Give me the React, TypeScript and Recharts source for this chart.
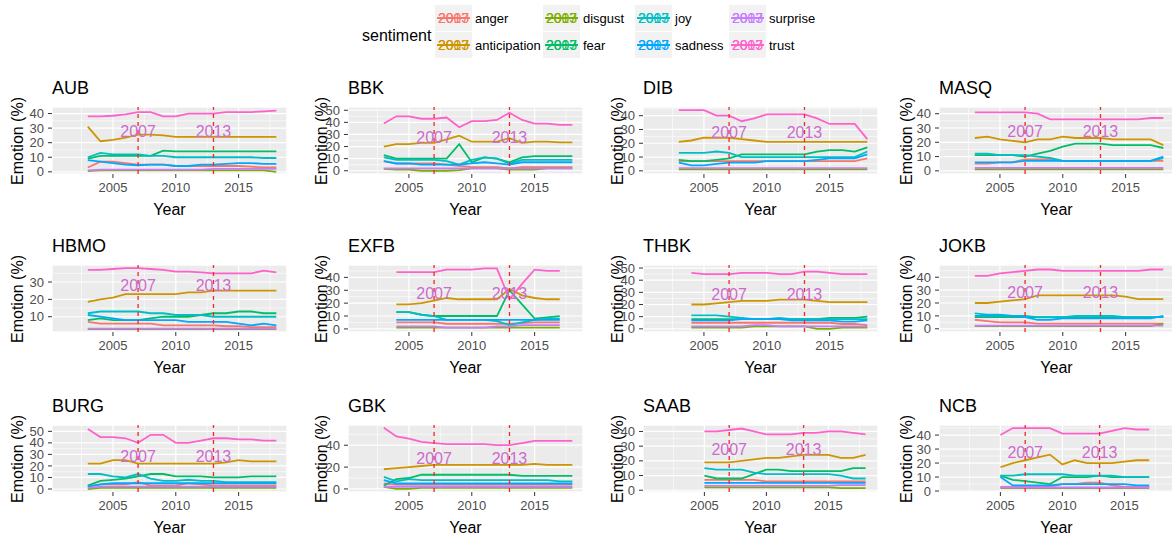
import { LineChart, Line, XAxis, YAxis, CartesianGrid, ReferenceLine, ReferenceDot } from "recharts"

const SENTIMENTS = ["anger", "anticipation", "disgust", "fear", "joy", "sadness", "surprise", "trust"]
const COLORS = ["#F8766D", "#CD9600", "#7CAE00", "#00BE67", "#00BFC4", "#00A9FF", "#C77CFF", "#FF61CC"]
const EVENT_YEARS = [2007, 2013]

const YEARS_03_18 = [2003, 2004, 2005, 2006, 2007, 2008, 2009, 2010, 2011, 2012, 2013, 2014, 2015, 2016, 2017, 2018]
const YEARS_04_17 = [2004, 2005, 2006, 2007, 2008, 2009, 2010, 2011, 2012, 2013, 2014, 2015, 2016, 2017]
const YEARS_04_18 = [2004, 2005, 2006, 2007, 2008, 2009, 2010, 2011, 2012, 2013, 2014, 2015, 2016, 2017, 2018]
const YEARS_05_17 = [2005, 2006, 2007, 2008, 2009, 2010, 2011, 2012, 2013, 2014, 2015, 2016, 2017]
const YEARS_05_18 = [2005, 2006, 2007, 2008, 2009, 2010, 2011, 2012, 2013, 2014, 2015, 2016, 2017, 2018]

const AUB = {
  anger: [3, 7, 7, 6, 5, 5, 5, 4, 4, 4, 4, 4, 4, 3.5, 3, 3],
  anticipation: [31, 21, 22, 23.5, 25.5, 25.5, 25, 24, 24, 24, 24, 24, 24, 24, 24, 24],
  disgust: [0.5, 1, 1, 1, 1, 1, 1, 1, 1, 1, 1, 1, 1, 1, 1, 0],
  fear: [9, 11, 11, 11, 11, 11, 14.5, 14, 14, 14, 14, 14, 14, 14, 14, 14],
  joy: [10, 13, 12, 12, 12, 11, 11, 10, 10, 10, 10, 10, 10, 10, 9.5, 9.5],
  sadness: [8, 7, 6, 5, 4.5, 5, 5, 4, 4, 5, 5, 5.5, 6, 6, 5.5, 5.5],
  surprise: [1, 1.5, 1.5, 1.5, 1.5, 1.5, 1.5, 1.5, 1.5, 1.5, 2, 2, 2, 2, 2, 2],
  trust: [38, 38, 38.5, 39.5, 41, 41, 38, 38, 40, 40, 40, 41, 41, 41, 41.5, 42],
}

const BBK = {
  anger: [8, 6, 6, 6, 6, 5, 4, 3, 3, 3, 2, 3, 3, 3, 3, 3],
  anticipation: [20, 22, 22, 23, 23, 26, 29, 24, 24, 24, 27, 23, 24, 24, 23.5, 23.5],
  disgust: [1.5, 1, 1, 0, 0, 0, 0.5, 2, 2, 2, 1, 1, 1, 2, 2, 2],
  fear: [13, 10, 10, 10, 10, 10, 22, 7, 11, 10, 7, 11, 12, 12, 12, 12],
  joy: [11, 9, 9, 9, 9, 8, 5, 9, 11, 10, 6, 9, 9, 9, 9, 9],
  sadness: [8, 6, 6, 5, 5, 5, 5, 6, 7, 6, 5, 7, 7, 7, 7, 7],
  surprise: [2, 2, 2, 2, 2, 2, 2, 2, 2, 2, 2, 2, 2, 2, 2, 2],
  trust: [39, 45, 45, 43, 43, 44, 36, 41, 41, 42, 48, 42, 39, 39, 38, 38],
}

const DIB = {
  anger: [7, 7, 7, 7, 7, 7, 7, 7, 7, 7, 7, 7, 7, 7, 7, 9],
  anticipation: [21, 22, 24, 24, 24, 23, 22, 21, 21, 21, 21, 21, 21, 21, 21, 21],
  disgust: [1, 1, 1, 1, 1, 1, 1, 1, 1, 1, 1, 1, 1, 1, 1, 1],
  fear: [8, 7, 7, 8, 9, 12, 12, 12, 12, 12, 12, 14, 15, 15, 14, 17],
  joy: [13, 13, 13, 14, 13, 10, 10, 10, 10, 10, 10, 10, 10, 10, 10, 14],
  sadness: [6, 4, 4, 5, 6, 6, 6, 7, 7, 7, 7, 8, 9, 9, 9, 12],
  surprise: [2, 2, 2, 2, 2, 2, 2, 2, 2, 2, 2, 2, 2, 2, 2, 2],
  trust: [44, 44, 44, 40, 40, 36, 38, 41, 41, 41, 41, 38, 34, 34, 34, 23],
}

const MASQ = {
  anger: [5, 5, 6, 6, 8, 8, 8, 7, 7, 7, 7, 7, 7, 7, 7, 7],
  anticipation: [23, 24, 22, 21, 20, 22, 22, 24, 23, 23, 23, 22, 22, 22, 22, 18],
  disgust: [1, 1, 1, 1, 1, 1, 1, 1, 1, 1, 1, 1, 1, 1, 1, 1],
  fear: [11, 11, 11, 11, 10, 12, 14, 17, 19, 19, 19, 18, 18, 18, 18, 16],
  joy: [12, 12, 11, 11, 11, 10, 9, 7, 7, 7, 7, 7, 7, 7, 7, 9],
  sadness: [6, 6, 6, 6, 7, 7, 7, 7, 7, 7, 7, 7, 7, 7, 7, 10],
  surprise: [2, 2, 2, 2, 2, 2, 2, 2, 2, 2, 2, 2, 2, 2, 2, 2],
  trust: [41, 41, 41, 41, 41, 40, 36, 36, 36, 36, 36, 36, 36, 36, 37, 37],
}

const HBMO = {
  anger: [7, 6, 6, 6, 6, 6, 5, 5, 5, 5, 5, 4.5, 4.5, 4, 4, 4],
  anticipation: [18.5, 20, 21, 23, 23, 23, 23, 23, 24, 24, 25, 25, 25, 25, 25, 25],
  disgust: [2.8, 2.8, 2.8, 2.8, 2.8, 2.8, 2.8, 2.8, 2.8, 2.8, 2.8, 2.8, 2.8, 2.8, 2.8, 2.8],
  fear: [8, 9, 8, 8, 8, 9, 10, 10, 10, 11, 12, 12, 13, 13, 12, 12],
  joy: [12, 13, 13, 13, 13, 12, 12, 11, 11, 11, 10, 10, 10, 10, 10, 10],
  sadness: [11, 10, 9, 8, 8, 8, 8, 8, 7, 7, 7, 7, 6, 5, 6, 5],
  surprise: [3.2, 3.2, 3.2, 3.2, 3.2, 3.2, 3.2, 3.2, 3.2, 3.2, 3.2, 3.2, 3.2, 3.2, 3.2, 3.2],
  trust: [37, 37, 37.5, 38, 38, 37.5, 37, 36, 36, 35.5, 35, 35, 35, 35, 36.5, 35.5],
}

const EXFB = {
  anger: [5, 5, 5, 5, 4, 4, 4, 4, 4, 4, 4.5, 5, 5, 5],
  anticipation: [19, 19, 20, 22, 24, 23, 23, 23, 23, 31, 26, 24, 23, 23],
  disgust: [1, 1, 1, 1, 1, 1, 1, 1, 1, 1, 1, 1, 1, 1],
  fear: [13, 13, 11, 10, 10, 10, 10, 10, 10, 30, 19, 8, 9, 10],
  joy: [13, 13, 11, 10, 7, 7, 7, 7, 6, 3, 5, 7, 8, 8],
  sadness: [7, 7, 7, 7, 7, 7, 7, 7, 7, 7, 7, 7, 7, 7],
  surprise: [2, 2, 2, 2, 1, 1, 1, 1, 2, 2, 3, 3, 3, 3],
  trust: [44, 44, 44, 44, 46, 46, 46, 47, 47, 23, 35, 46, 45, 45],
}

const THBK = {
  anger: [5, 5, 5, 5, 5, 5, 5, 5, 5, 5, 5, 5, 4, 4, 3],
  anticipation: [20, 20, 21, 22, 23, 23, 23, 24, 24, 24, 23, 22, 22, 22, 22],
  disgust: [1, 1, 1, 1, 1, 2, 2, 2, 2, 2, 0, 0, 1, 1, 1],
  fear: [8, 8, 8, 8, 8, 8, 8, 8, 8, 8, 8, 9, 9, 9, 10],
  joy: [11, 11, 11, 10, 9, 8, 8, 9, 8, 8, 8, 8, 8, 8, 8],
  sadness: [7, 7, 7, 7, 8, 8, 8, 8, 7, 7, 7, 7, 6, 6, 7],
  surprise: [2, 2, 2, 2, 2, 3, 3, 2, 2, 2, 2, 2, 2, 2, 2],
  trust: [46, 45, 45, 45, 46, 46, 46, 45, 45, 47, 47, 46, 45, 45, 45],
}

const JOKB = {
  anger: [7, 6, 5, 5, 5, 4, 4, 4, 4, 4, 4, 4, 4, 4, 4, 4],
  anticipation: [20, 20, 21, 22, 23, 26, 26, 26, 26, 26, 26, 26, 25, 23, 23, 23],
  disgust: [2, 2, 2, 2, 2, 2, 2, 2, 2, 2, 2, 2, 2, 2, 2, 4],
  fear: [9, 9, 9, 9, 9, 9, 9, 9, 9, 9, 9, 9, 9, 9, 9, 9],
  joy: [12, 11, 11, 10, 10, 9, 9, 9, 10, 10, 10, 10, 9, 9, 9, 9],
  sadness: [10, 10, 10, 10, 9, 7, 7, 8, 8, 8, 8, 8, 8, 8, 8, 10],
  surprise: [2.5, 2.5, 2.5, 2.5, 2.5, 2.5, 2.5, 2.5, 2.5, 2.5, 2.5, 2.5, 2.5, 2.5, 2.5, 2.5],
  trust: [41, 41, 43, 44, 45, 46, 46, 45, 45, 45, 45, 45, 45, 45, 46, 46],
}

const BURG = {
  anger: [2, 4, 4, 4, 6, 3, 3, 3, 5, 4, 3, 3, 3, 3, 3, 3],
  anticipation: [22, 22, 25, 25, 22, 22, 22, 22, 22, 22, 22, 23, 25, 24, 24, 24],
  disgust: [0, 1, 1, 1, 1, 1, 1, 1, 1, 1, 1, 1, 1, 1, 1, 1],
  fear: [3, 7, 8, 9, 11, 13, 13, 11, 11, 11, 10, 10, 10, 11, 11, 11],
  joy: [13, 13, 11, 10, 13, 9, 7, 7, 8, 7, 7, 6, 6, 6, 6, 6],
  sadness: [2, 4, 5, 5, 5, 5, 5, 5, 5, 5, 5, 5, 5, 5, 5, 5],
  surprise: [1, 2, 2, 2, 2, 2, 2, 2, 2, 2, 2, 2, 2, 2, 2, 2],
  trust: [52, 45, 45, 44, 40, 47, 47, 40, 40, 42, 44, 44, 43, 43, 42, 42],
}

const GBK = {
  anger: [5, 4, 4, 4, 4, 4, 4, 4, 4, 4, 4, 4, 4, 4, 4, 4],
  anticipation: [18, 19, 20, 21, 22, 22, 22, 22, 22, 22, 22, 22, 23, 22, 22, 22],
  disgust: [2, 0, 0, 1, 1, 1, 1, 1, 1, 1, 1, 1, 1, 1, 1, 1],
  fear: [3, 9, 10, 13, 13, 13, 13, 13, 13, 13, 13, 12, 12, 12, 12, 12],
  joy: [11, 7, 9, 8, 8, 8, 8, 8, 8, 8, 8, 8, 8, 8, 7, 7],
  sadness: [8, 5, 5, 5, 5, 5, 5, 5, 5, 5, 5, 5, 5, 5, 5, 5],
  surprise: [2, 2, 2, 2, 2, 2, 2, 2, 2, 2, 2, 2, 2, 2, 2, 2],
  trust: [56, 48, 46, 43, 42, 41, 41, 41, 41, 40, 40, 42, 44, 44, 44, 44],
}

const SAAB = {
  anger: [7, 7, 7, 7, 7, 6, 6, 6, 6, 6, 6, 6, 6, 6],
  anticipation: [19, 19, 19, 20, 21, 22, 22, 23, 24, 24, 24, 22, 22, 24],
  disgust: [2, 2, 2, 2, 2, 2, 2, 2, 2, 2, 2, 1.5, 1.5, 1.5],
  fear: [10, 8, 8, 8, 11, 14, 14, 13, 13, 13, 13, 13, 15, 15],
  joy: [15, 14, 14, 14, 12, 11, 11, 11, 11, 11, 11, 10, 8, 8],
  sadness: [5, 5, 5, 5, 5, 5, 5, 5, 5, 5, 5, 5, 5, 5],
  surprise: [3, 3, 3, 3, 3, 3, 3, 3, 3, 3, 3, 3.5, 3.5, 3.5],
  trust: [40, 40, 41, 42, 40, 38, 38, 38, 39, 39, 40, 40, 39, 38],
}

const NCB = {
  anger: [3, 3, 3, 3, 3, 5, 5, 6, 6, 4, 3, 3, 3],
  anticipation: [17, 20, 22, 24, 26, 19, 22, 20, 20, 20, 21, 22, 22],
  disgust: [2, 2, 2, 2, 2, 2, 2, 2, 2, 2, 2, 2, 2],
  fear: [11, 8, 7, 6, 5, 10, 10, 10, 11, 10, 10, 10, 10],
  joy: [11, 11, 12, 12, 12, 12, 11, 11, 11, 11, 10, 10, 10],
  sadness: [10, 4, 4, 4, 4, 5, 5, 5, 5, 5, 5, 4, 4],
  surprise: [2.5, 2.5, 2.5, 2.5, 2.5, 2.5, 2.5, 2.5, 2.5, 2.5, 2.5, 2.5, 2.5],
  trust: [40, 45, 45, 45, 45, 41, 41, 41, 41, 43, 45, 44, 44],
}

const X_MAIN = [2000.15, 2018.85]
const X_LATE = [2000.05, 2019.0]
const TICKS_10_40 = [0, 10, 20, 30, 40]
const TICKS_10_50 = [0, 10, 20, 30, 40, 50]

const PANELS = [
  { name: "AUB", years: YEARS_03_18, data: AUB, x: X_MAIN, y: [-1.5, 44.5], ticks: TICKS_10_40 },
  { name: "BBK", years: YEARS_03_18, data: BBK, x: X_MAIN, y: [-2.7, 52.7], ticks: TICKS_10_50 },
  { name: "DIB", years: YEARS_03_18, data: DIB, x: X_MAIN, y: [-2.3, 46.3], ticks: TICKS_10_40 },
  { name: "MASQ", years: YEARS_03_18, data: MASQ, x: X_MAIN, y: [-2.2, 44.7], ticks: TICKS_10_40 },
  { name: "HBMO", years: YEARS_03_18, data: HBMO, x: X_MAIN, y: [1.2, 39.8], ticks: [10, 20, 30] },
  { name: "EXFB", years: YEARS_04_17, data: EXFB, x: X_MAIN, y: [-2.4, 49.6], ticks: TICKS_10_40 },
  { name: "THBK", years: YEARS_04_18, data: THBK, x: X_MAIN, y: [-2.6, 52.5], ticks: TICKS_10_50 },
  { name: "JOKB", years: YEARS_03_18, data: JOKB, x: X_MAIN, y: [-2.5, 49.5], ticks: TICKS_10_40 },
  { name: "BURG", years: YEARS_03_18, data: BURG, x: X_MAIN, y: [-2.6, 55.5], ticks: TICKS_10_50 },
  { name: "GBK", years: YEARS_03_18, data: GBK, x: X_MAIN, y: [-2.8, 58.5], ticks: [0, 20, 40] },
  { name: "SAAB", years: YEARS_05_18, data: SAAB, x: X_LATE, y: [-1.2, 44.4], ticks: TICKS_10_40 },
  { name: "NCB", years: YEARS_05_17, data: NCB, x: X_LATE, y: [-0.7, 47.2], ticks: TICKS_10_40 },
]

const ROW_TOP = [107, 265, 425]
const COL_LEFT = [52, 348, 643, 939]
const YLAB_GAP = [34, 26, 25, 32]
const PLOT_W = 235
const PLOT_H = 67
const YAXIS_W = 45
const XAXIS_H = 28
const PAD_TOP = 10
const FONT = '"Liberation Sans", Arial, sans-serif'
const EVENT_TEXT = "#CD6ACD"

function minorTicks(major: number[], lo: number, hi: number) {
  const step = major[1] - major[0]
  const out: number[] = []
  for (let v = major[0] - step * 1.5; v <= major[major.length - 1] + step * 1.5; v += step) {
    if (v >= lo && v <= hi) out.push(v)
  }
  return out
}

function Panel({ p, idx }: { p: any; idx: number }) {
  const row = Math.floor(idx / 4)
  const col = idx % 4
  const left = COL_LEFT[col]
  const top = ROW_TOP[row]
  const rows = p.years.map((year: number, i: number) => {
    const r: any = { year }
    SENTIMENTS.forEach((s) => (r[s] = p.data[s][i]))
    return r
  })
  const xMajor = [2005, 2010, 2015]
  const xMinor = minorTicks(xMajor, p.x[0], p.x[1])
  const yMinor = minorTicks(p.ticks, p.y[0], p.y[1])
  const tick = { fill: "#4D4D4D", fontSize: 13, fontFamily: FONT }

  return (
    <>
      <div style={{ position: "absolute", left, top: top - 30, height: 22, lineHeight: "22px", fontSize: 18, color: "#000" }}>{p.name}</div>
      <div
        style={{
          position: "absolute",
          left: left - YLAB_GAP[col] - 60,
          top: top + PLOT_H / 2 - 10,
          width: 120,
          height: 20,
          lineHeight: "20px",
          textAlign: "center",
          fontSize: 16,
          transform: "rotate(-90deg)",
        }}
      >
        Emotion (%)
      </div>
      <div style={{ position: "absolute", left: left + PLOT_W / 2 - 40, top: top + PLOT_H + 26, width: 80, textAlign: "center", fontSize: 16, lineHeight: "20px" }}>Year</div>
      <div style={{ position: "absolute", left: left - YAXIS_W, top: top - PAD_TOP }}>
        <LineChart width={YAXIS_W + PLOT_W} height={PLOT_H + XAXIS_H + PAD_TOP} data={rows} margin={{ top: PAD_TOP, right: 0, bottom: 0, left: 0 }}>
          <XAxis xAxisId="minor" hide type="number" dataKey="year" domain={p.x} ticks={xMinor} allowDataOverflow />
          <YAxis yAxisId="minor" hide type="number" domain={p.y} ticks={yMinor} allowDataOverflow />
          <CartesianGrid xAxisId="minor" yAxisId="minor" fill="#EBEBEB" stroke="#FFFFFF" strokeWidth={0.6} />
          <XAxis
            type="number"
            dataKey="year"
            domain={p.x}
            ticks={xMajor}
            interval={0}
            allowDataOverflow
            height={XAXIS_H}
            axisLine={false}
            tickLine={{ stroke: "#333333" }}
            tickSize={4}
            tickMargin={5}
            tick={tick}
          />
          <YAxis
            type="number"
            domain={p.y}
            ticks={p.ticks}
            interval={0}
            allowDataOverflow
            width={YAXIS_W}
            axisLine={false}
            tickLine={{ stroke: "#333333" }}
            tickSize={4}
            tickMargin={4}
            tick={tick}
          />
          <CartesianGrid fill="none" stroke="#FFFFFF" strokeWidth={1.2} />
          {SENTIMENTS.map((s, i) => (
            <Line key={s} type="linear" dataKey={s} stroke={COLORS[i]} strokeWidth={1.8} dot={false} isAnimationActive={false} />
          ))}
          {EVENT_YEARS.map((yr) => (
            <ReferenceLine key={`v${yr}`} x={yr} stroke="#EE2A2A" strokeWidth={1.3} strokeDasharray="4 4" />
          ))}
          {EVENT_YEARS.map((yr) => (
            <ReferenceDot
              key={`t${yr}`}
              x={yr}
              y={28}
              r={0}
              fill="none"
              stroke="none"
              label={{ value: String(yr), position: "center", fill: EVENT_TEXT, fontSize: 16, fontFamily: FONT }}
            />
          ))}
        </LineChart>
      </div>
    </>
  )
}

const LEGEND_COLS = [435, 543, 635, 729]
const LEGEND_ROWS = [5, 32]

function LegendKey({ color }: { color: string }) {
  return (
    <svg width={37} height={26} style={{ display: "block" }}>
      <rect x={0} y={0} width={37} height={26} fill="#F2F2F2" />
      <line x1={2} x2={35} y1={13} y2={13} stroke={color} strokeWidth={1.8} />
      <text x={18.5} y={18} textAnchor="middle" fontSize={14} fill={color} fontFamily={FONT}>2007</text>
      <text x={18.5} y={18} textAnchor="middle" fontSize={14} fill={color} fontFamily={FONT}>2013</text>
    </svg>
  )
}

function SentimentLegend() {
  return (
    <>
      <div style={{ position: "absolute", left: 362, top: 26, fontSize: 16, lineHeight: "20px" }}>sentiment</div>
      {SENTIMENTS.map((s, i) => {
        // ggplot fills the legend column by column, two rows each
        const col = Math.floor(i / 2)
        const row = i % 2
        return (
          <div key={s} style={{ position: "absolute", left: LEGEND_COLS[col], top: LEGEND_ROWS[row], display: "flex", alignItems: "center", height: 26 }}>
            <LegendKey color={COLORS[i]} />
            <span style={{ marginLeft: 3, fontSize: 13 }}>{s}</span>
          </div>
        )
      })}
    </>
  )
}

export default function App() {
  return (
    <div
      style={{
        position: "absolute",
        left: 0,
        top: 0,
        width: 1172,
        height: 538,
        overflow: "hidden",
        background: "#FFFFFF",
        fontFamily: FONT,
        color: "#000",
      }}
    >
      <SentimentLegend />
      {PANELS.map((p, idx) => (
        <Panel key={p.name} p={p} idx={idx} />
      ))}
    </div>
  )
}
